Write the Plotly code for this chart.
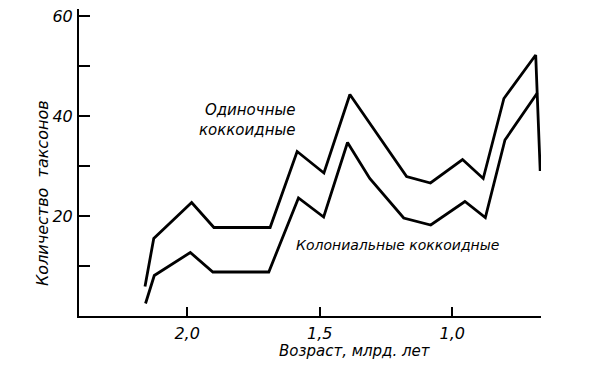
import plotly.graph_objects as go

# ---- data (ages in billion years, counts of taxa) ----
solitary_age = [2.159, 2.126, 1.983, 1.899, 1.687, 1.585, 1.484, 1.386, 1.172, 1.082, 0.961, 0.883, 0.805, 0.685, 0.668]
solitary_val = [5.9, 15.5, 22.7, 17.7, 17.7, 32.9, 28.6, 44.3, 27.9, 26.6, 31.3, 27.5, 43.5, 52.2, 29.0]

colonial_age = [2.157, 2.124, 1.988, 1.903, 1.692, 1.580, 1.485, 1.395, 1.311, 1.183, 1.081, 0.952, 0.875, 0.801, 0.679]
colonial_val = [2.5, 8.1, 12.7, 8.8, 8.8, 23.6, 19.8, 34.7, 27.5, 19.6, 18.2, 22.9, 19.7, 35.2, 44.6]

x_tickvals = [2.0, 1.5, 1.0]
x_ticktext = ["2,0", "1,5", "1,0"]
y_tickvals = [10, 20, 30, 40, 50, 60]
y_ticktext = ["", "20", "", "40", "", "60"]

label_solitary = "Одиночные<br>коккоидные"
label_colonial = "Колониальные коккоидные"
x_title = "Возраст, млрд. лет"
y_title = "Количество\u00a0\u00a0таксонов"

FONT = "DejaVu Sans"

# ---- layout geometry (page body has an 8px default margin) ----
OFF = 8
W_FIG, H_FIG = 592 - OFF, 373 - OFF
L, R, T, B = 71, 51, 1, 57
PW = W_FIG - L - R
PH = H_FIG - T - B


def px_x(p):
    return (p - OFF - L) / PW


def px_y(p):
    return (H_FIG - B - (p - OFF)) / PH


fig = go.Figure()
fig.add_trace(go.Scatter(x=solitary_age, y=solitary_val, mode="lines",
                         line=dict(color="black", width=2.8), hoverinfo="skip",
                         cliponaxis=False))
fig.add_trace(go.Scatter(x=colonial_age, y=colonial_val, mode="lines",
                         line=dict(color="black", width=2.8), hoverinfo="skip",
                         cliponaxis=False))

fig.update_layout(
    width=W_FIG, height=H_FIG,
    margin=dict(l=L, r=R, t=T, b=B, autoexpand=False),
    paper_bgcolor="white", plot_bgcolor="white",
    showlegend=False,
    font=dict(family=FONT, style="italic", color="black"),
)

fig.update_xaxes(
    range=[2.408, 0.665], showgrid=False, zeroline=False, automargin=False,
    showline=True, linewidth=2, linecolor="black",
    ticks="inside", ticklen=9, tickwidth=1.5, tickcolor="black",
    tickvals=x_tickvals, ticktext=x_ticktext,
    tickfont=dict(family=FONT, size=16, style="italic", color="black"),
    ticklabelstandoff=2, ticklabeloverflow="allow",
)
fig.update_yaxes(
    range=[0, 61.4], showgrid=False, zeroline=False, automargin=False,
    showline=True, linewidth=2, linecolor="black",
    ticks="inside", ticklen=11, tickwidth=1.5, tickcolor="black",
    tickvals=y_tickvals, ticktext=y_ticktext,
    tickfont=dict(family=FONT, size=16, style="italic", color="black"),
    ticklabelstandoff=1, ticklabeloverflow="allow",
)

fig.add_annotation(text=label_solitary, xref="paper", yref="paper",
                   x=px_x(298), y=px_y(120), xanchor="right", yanchor="middle",
                   align="right", showarrow=False,
                   font=dict(family=FONT, size=15, style="italic", color="black"))
fig.add_annotation(text=label_colonial, xref="paper", yref="paper",
                   x=px_x(294), y=px_y(245), xanchor="left", yanchor="middle",
                   showarrow=False,
                   font=dict(family=FONT, size=14, style="italic", color="black"))
fig.add_annotation(text=x_title, xref="paper", yref="paper",
                   x=px_x(355), y=px_y(351), xanchor="center", yanchor="middle",
                   showarrow=False,
                   font=dict(family=FONT, size=15, style="italic", color="black"))
fig.add_annotation(text=y_title, xref="paper", yref="paper",
                   x=px_x(42), y=px_y(193), xanchor="center", yanchor="middle",
                   textangle=-90, showarrow=False,
                   font=dict(family=FONT, size=16, style="italic", color="black"))

fig.write_html("out.html")
